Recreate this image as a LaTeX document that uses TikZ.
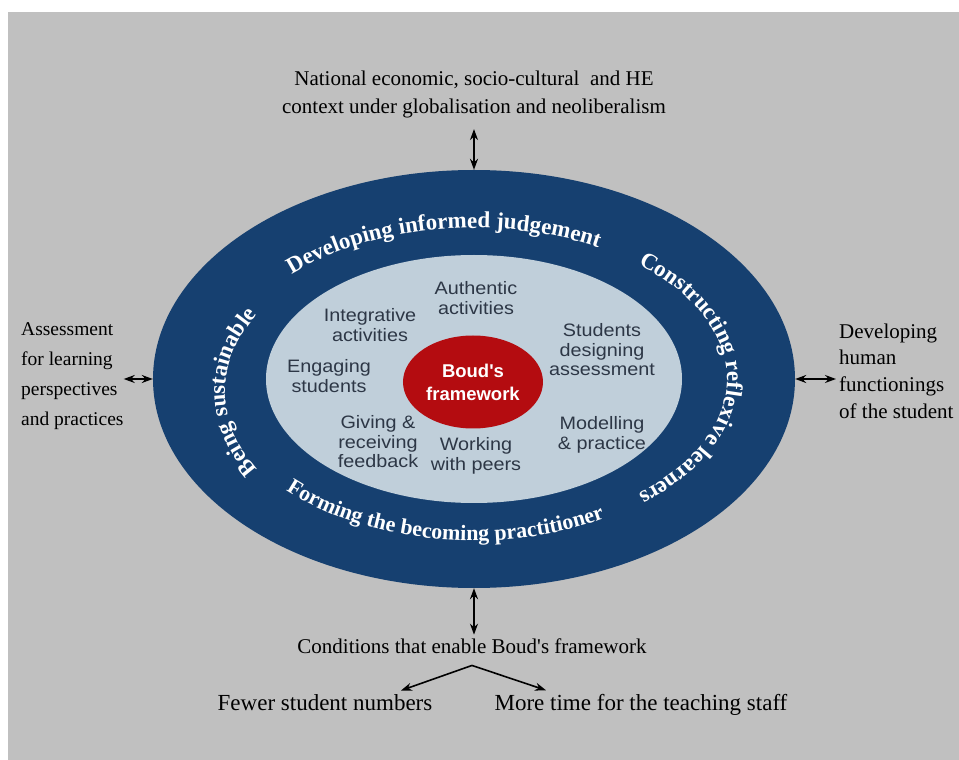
\documentclass[tikz,border=0pt]{standalone}
\usepackage{fontspec}
\setmainfont{Liberation Serif}
\setsansfont{Liberation Sans}
\newfontfamily\itemfont{Liberation Sans}[FakeStretch=1.1]
\usetikzlibrary{arrows.meta,decorations.text,positioning,shapes.geometric}

\definecolor{paper}{RGB}{192,192,192}
\definecolor{ringblue}{RGB}{22,64,112}
\definecolor{coreblue}{RGB}{192,207,218}
\definecolor{boudred}{RGB}{180,12,16}
\definecolor{itemink}{RGB}{45,55,70}
\newcommand{\ringfont}{\color{white}\bfseries\fontsize{23}{23}\selectfont}

\begin{document}
\begin{tikzpicture}[x=1pt,y=1pt,
	>={Stealth[length=11pt,width=8pt]},
	ctxtext/.style={font=\fontsize{21}{28}\selectfont, align=center},
	item/.style={font=\itemfont\fontsize{18}{19.5}\selectfont, text=itemink, align=center},
	link/.style={line width=1.6pt}]
	\useasboundingbox (-474,379) rectangle (485,-381);
	\fill[white] (-474,379) rectangle (485,-381);
	\fill[paper] (-466,367) rectangle (485,-381);

	\node[ellipse, fill=ringblue, inner sep=0pt, minimum width=642pt, minimum height=418pt] (ring) at (0,0) {};
	\node[ellipse, fill=coreblue, inner sep=0pt, minimum width=416pt, minimum height=248pt] (core) at (0,0) {};
	\node[ellipse, fill=boudred, inner sep=0pt, minimum width=140pt, minimum height=93pt, text=white, align=center,
		font=\sffamily\bfseries\fontsize{18.5}{23}\selectfont] (boud) at (-1,-3) {Boud\textquotesingle s\\framework};

	% words round the ring
	\path[decorate, decoration={text along path, text align=center, text={|\ringfont|Developing informed judgement}}]
		(147:253pt and 151pt) arc[start angle=147, end angle=51, x radius=253pt, y radius=151pt];
	\path[decorate, decoration={text along path, text align=center, text={|\ringfont|Constructing reflexive learners}}]
		(62:253pt and 151pt) arc[start angle=62, end angle=-62, x radius=253pt, y radius=151pt];
	\path[shift={(0,-13)}, decorate, decoration={text along path, text align=center, text={|\ringfont|Being sustainable}}]
		(230:249pt and 157pt) arc[start angle=230, end angle=130, x radius=249pt, y radius=157pt];
	\path[decorate, decoration={text along path, text align=center, text={|\ringfont\fontsize{22}{22}\selectfont|Forming the becoming practitioner}}]
		(178:259.5pt and 161.5pt) arc[start angle=178, end angle=340, x radius=259.5pt, y radius=161.5pt];

	\node[item] (authentic) at (2,81) {Authentic\\activities};
	\node[item] (integr) at (-104,54) {Integrative\\activities};
	\node[item] (studdes) at (128,29) {Students\\designing\\assessment};
	\node[item] (engage) at (-145,3) {Engaging\\students};
	\node[item] (giving) at (-96,-63) {Giving \&\\receiving\\feedback};
	\node[item] (working) at (2,-77) {Working\\with peers};
	\node[item] (modelling) at (128,-56) {Modelling\\\& practice};

	\node[ctxtext] (ctx) at (0,285) {National economic, socio-cultural\ \ and HE\\context under globalisation and neoliberalism};
	\draw[<->, link, shorten <=8pt] (ctx) -- (ring.north);

	\node[font=\fontsize{19.5}{30}\selectfont, align=left, inner sep=0pt, anchor=west] (afl) at (-453,3) {Assessment\\for learning\\perspectives\\and practices};
	\draw[<->, link] (afl.east |- ring.west) -- (ring.west);

	\node[font=\fontsize{21}{26.7}\selectfont, align=left, inner sep=0pt, anchor=west] (hf) at (365,8) {Developing\\human\\functionings\\of the student};
	\draw[<->, link, shorten >=3pt] (ring.east) -- (hf.west |- ring.east);

	\node[ctxtext, anchor=base] (cond) at (-2,-274) {Conditions that enable Boud\textquotesingle s framework};
	\draw[<->, link] (ring.south) -- (ring.south |- cond.north);
	\coordinate[below=8.7pt of cond.south] (split);

	\node[ctxtext, font=\fontsize{23}{28}\selectfont, anchor=base] (fewer) at (-149,-331) {Fewer student numbers};
	\node[ctxtext, font=\fontsize{23}{28}\selectfont, anchor=base] (more) at (167,-331) {More time for the teaching staff};
	\draw[->, link] (split) -- ([xshift=76pt]fewer.north);
	\draw[->, link] (split) -- ([xshift=-95pt]more.north);
\end{tikzpicture}
\end{document}
